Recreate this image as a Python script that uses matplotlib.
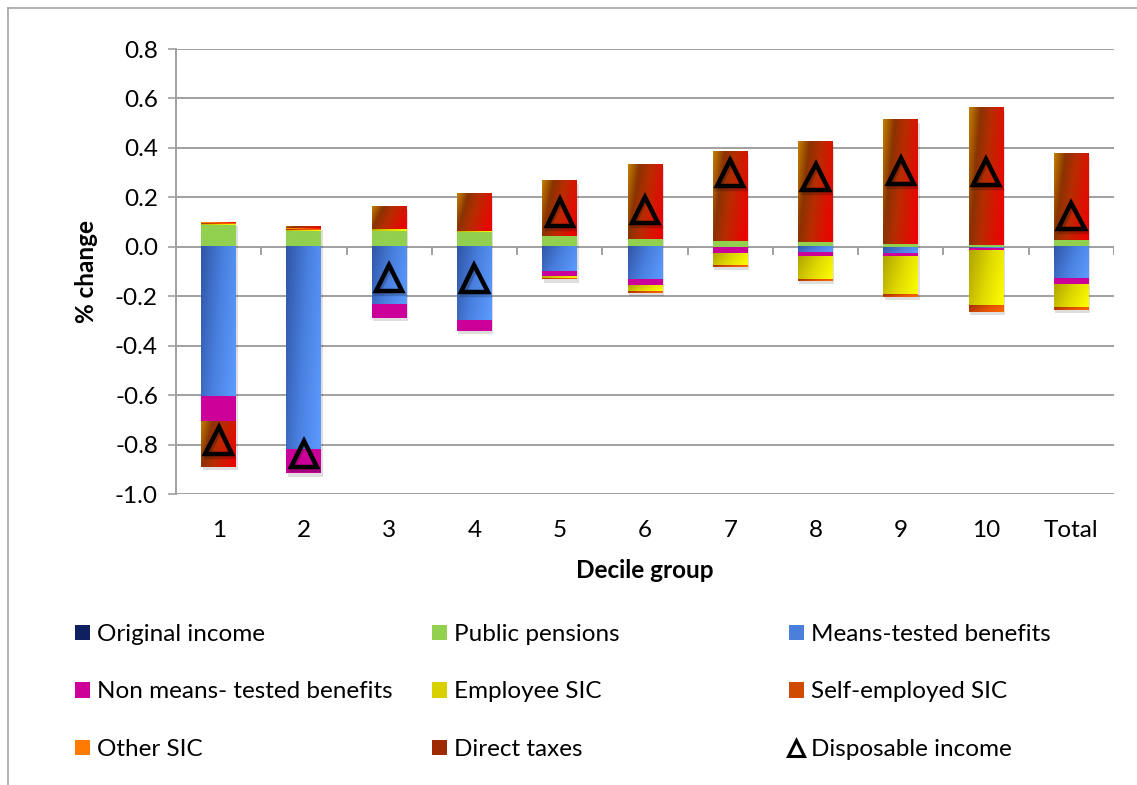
import numpy as np
import matplotlib
matplotlib.use('Agg')
import matplotlib.pyplot as plt
import matplotlib.patheffects as pe
from matplotlib.colors import LinearSegmentedColormap
from matplotlib.patches import Patch
from matplotlib.lines import Line2D

plt.rcParams['font.family'] = ['Lato', 'DejaVu Sans']

# 데이터
groups = ['1', '2', '3', '4', '5', '6', '7', '8', '9', '10', 'Total']
original_income = [0, 0, 0, 0, 0, 0, 0, 0, 0, 0, 0]
public_pensions = [0.087, 0.065, 0.065, 0.059, 0.045, 0.032, 0.023, 0.018, 0.011, 0.007, 0.028]
means_tested = [-0.604, -0.822, -0.231, -0.296, -0.098, -0.134, -0.004, -0.021, -0.028, -0.008, -0.128]
non_means_tested = [-0.099, -0.094, -0.056, -0.043, -0.023, -0.021, -0.025, -0.020, -0.013, -0.005, -0.022]
employee_sic = [0.004, 0.004, 0.007, 0.004, -0.009, -0.024, -0.045, -0.089, -0.150, -0.222, -0.093]
self_employed_sic = [0.004, 0.003, 0, 0, -0.002, -0.007, -0.007, -0.008, -0.012, -0.027, -0.011]
other_sic = [0.003, 0.003, 0, 0, 0, 0, 0, 0, 0, 0, 0]
direct_taxes = [-0.186, 0.005, 0.089, 0.151, 0.225, 0.303, 0.361, 0.406, 0.502, 0.558, 0.351]
disposable_income = [-0.784, -0.837, -0.127, -0.129, 0.138, 0.149, 0.299, 0.282, 0.306, 0.302, 0.124]
y_ticks = [-1.0, -0.8, -0.6, -0.4, -0.2, 0.0, 0.2, 0.4, 0.6, 0.8]

series = [
    ('Original income', original_income, ['#0a1a50', '#1f3a80'], '#0f2060'),
    ('Public pensions', public_pensions, ['#92d050', '#92d050'], '#92d050'),
    ('Means-tested benefits', means_tested, ['#2f56a6', '#4a80e0', '#5c9cff'], '#4a7fdc'),
    ('Non means- tested benefits', non_means_tested, ['#cc0099', '#cc0099'], '#cc0099'),
    ('Employee SIC', employee_sic, ['#b0a400', '#e0d800', '#ffff00'], '#d8d000'),
    ('Self-employed SIC', self_employed_sic, ['#a03000', '#e05000', '#ff6a00'], '#d04a00'),
    ('Other SIC', other_sic, ['#ffb000', '#ff6000', '#ff0000'], '#ff7a00'),
    ('Direct taxes', direct_taxes, ['#c08000', '#8a3300', '#b82c00', '#d81400', '#f00000'], '#a02a00'),
]

GRID = '#a0a0a0'
FS = 17.5

fig = plt.figure(figsize=(11.37, 7.85), dpi=100)
ax = fig.add_axes([176 / 1137, 1 - 494 / 785, 938 / 1137, 445 / 785])

x = np.arange(len(groups))
width = 0.41
pos_bottom = np.zeros(len(groups))
neg_bottom = np.zeros(len(groups))


def gradient_fill(patch, colors, z):
    h = patch.get_height()
    if h == 0:
        return
    x0, y0, w = patch.get_x(), patch.get_y(), patch.get_width()
    gx, gy = np.meshgrid(np.linspace(0, 1, 60), np.linspace(0, 1, 60))
    t = 0.75 * gx + 0.25 * gy
    cmap = LinearSegmentedColormap.from_list('g', colors)
    ax.imshow(t, cmap=cmap, extent=(x0, x0 + w, min(y0, y0 + h), max(y0, y0 + h)),
              origin='upper', aspect='auto', interpolation='bilinear', zorder=z)


shadow = [pe.SimplePatchShadow(offset=(1, -2.5), shadow_rgbFace='k', alpha=0.13), pe.Normal()]
handles = []
for name, vals, grad, solid in series:
    vals = np.array(vals, dtype=float)
    bottoms = np.where(vals >= 0, pos_bottom, neg_bottom)
    bars = ax.bar(x, vals, width, bottom=bottoms, color=solid, linewidth=0, zorder=3)
    for b in bars:
        if b.get_height() != 0:
            b.set_path_effects(shadow)
            gradient_fill(b, grad, 4)
    pos_bottom += np.where(vals >= 0, vals, 0)
    neg_bottom += np.where(vals < 0, vals, 0)
    handles.append(Patch(facecolor=solid, edgecolor='none', label=name))

ax.plot(x, disposable_income, linestyle='none', marker='^', markersize=19, mfc='none',
        mec='black', mew=3.2, zorder=6,
        path_effects=[pe.SimpleLineShadow(offset=(1, -2), alpha=0.2), pe.Normal()])
handles.append(Line2D([], [], linestyle='none', marker='^', markersize=11, mfc='none',
                      mec='black', mew=2.2, label='Disposable income'))

ax.set_xlim(-0.5, len(groups) - 0.5)
ax.set_ylim(-1.0, 0.8)
ax.set_yticks(y_ticks)
ax.set_yticklabels([f'{v:.1f}' for v in y_ticks])
ax.yaxis.grid(True, color=GRID, linewidth=1.4, zorder=0)
ax.set_axisbelow(True)
ax.set_xticks(x)
ax.set_xticklabels(groups)
ax.tick_params(axis='x', length=0, pad=19, labelsize=FS)
ax.tick_params(axis='y', length=6, width=1.2, color=GRID, pad=7, labelsize=FS)
for s in ['top', 'right', 'bottom']:
    ax.spines[s].set_visible(False)
ax.spines['left'].set_color(GRID)
ax.spines['left'].set_linewidth(1.4)

# 0 선의 눈금
ax.vlines(np.arange(0.5, len(groups)), 0, -0.032, color=GRID, linewidth=1.4, zorder=2)

ax.set_xlabel('Decile group', fontsize=FS, fontweight='bold', labelpad=13)
ax.set_ylabel('% change', fontsize=FS, fontweight='bold', labelpad=12)

# 범례: 세 개의 열
col_x = [75, 432, 789]
for i in range(3):
    items = [handles[i], handles[i + 3], handles[i + 6]]
    fig.legend(handles=items, loc='upper left', bbox_to_anchor=(col_x[i] / 1137, 1 - 624 / 785),
               frameon=False, fontsize=FS, handlelength=0.6, handleheight=0.6,
               handletextpad=0.3, labelspacing=1.5, borderpad=0, borderaxespad=0)

# 차트 테두리
fig.add_artist(Line2D([8 / 1137, 8 / 1137], [0, 1 - 8 / 785], color='#a6a6a6', linewidth=1.2))
fig.add_artist(Line2D([8 / 1137, 1], [1 - 8 / 785, 1 - 8 / 785], color='#a6a6a6', linewidth=1.2))

fig.savefig('out.png', dpi=100)
